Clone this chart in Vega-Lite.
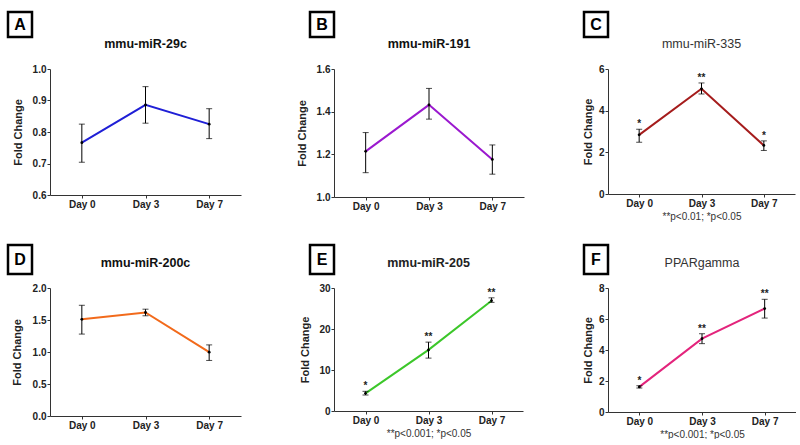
{
  "$schema": "https://vega.github.io/schema/vega-lite/v6.json",
  "background": "white",
  "padding": {"left": 5, "top": 9, "right": 0, "bottom": 0},
  "datasets": {
    "A": [{"day":"Day 0","mean":0.766,"lo":0.704,"hi":0.825},{"day":"Day 3","mean":0.886,"lo":0.828,"hi":0.944},{"day":"Day 7","mean":0.825,"lo":0.779,"hi":0.874}],
    "B": [{"day":"Day 0","mean":1.214,"lo":1.114,"hi":1.302},{"day":"Day 3","mean":1.432,"lo":1.365,"hi":1.509},{"day":"Day 7","mean":1.176,"lo":1.107,"hi":1.244}],
    "C": [{"day":"Day 0","mean":2.84,"lo":2.49,"hi":3.11,"sig":"*"},{"day":"Day 3","mean":5.05,"lo":4.8,"hi":5.33,"sig":"**"},{"day":"Day 7","mean":2.33,"lo":2.09,"hi":2.55,"sig":"*"}],
    "D": [{"day":"Day 0","mean":1.51,"lo":1.28,"hi":1.73},{"day":"Day 3","mean":1.617,"lo":1.566,"hi":1.669},{"day":"Day 7","mean":0.997,"lo":0.868,"hi":1.111}],
    "E": [{"day":"Day 0","mean":4.3,"lo":3.9,"hi":4.8,"sig":"*"},{"day":"Day 3","mean":14.9,"lo":12.9,"hi":16.8,"sig":"**"},{"day":"Day 7","mean":26.9,"lo":26.5,"hi":27.6,"sig":"**"}],
    "F": [{"day":"Day 0","mean":1.62,"lo":1.55,"hi":1.7,"sig":"*"},{"day":"Day 3","mean":4.73,"lo":4.41,"hi":5.05,"sig":"**"},{"day":"Day 7","mean":6.67,"lo":6.06,"hi":7.27,"sig":"**"}]
  },
  "columns": 6,
  "align": "each",
  "bounds": "flush",
  "spacing": 0,
  "concat": [
    {"width": 24, "height": 25, "view": {"stroke": "black", "strokeWidth": 2.5}, "data": {"values": [{"label": "A"}]}, "mark": {"type": "text", "fontSize": 16, "fontWeight": "bold", "color": "black"}, "encoding": {"text": {"field": "label"}}},
    {"width": 260, "height": 57, "data": {"values": [{}]}, "mark": {"type": "point", "opacity": 0}, "encoding": {}},
    {"width": 24, "height": 25, "view": {"stroke": "black", "strokeWidth": 2.5}, "data": {"values": [{"label": "B"}]}, "mark": {"type": "text", "fontSize": 16, "fontWeight": "bold", "color": "black"}, "encoding": {"text": {"field": "label"}}},
    {"width": 250, "height": 1, "data": {"values": [{}]}, "mark": {"type": "point", "opacity": 0}, "encoding": {}},
    {"width": 24, "height": 25, "view": {"stroke": "black", "strokeWidth": 2.5}, "data": {"values": [{"label": "C"}]}, "mark": {"type": "text", "fontSize": 16, "fontWeight": "bold", "color": "black"}, "encoding": {"text": {"field": "label"}}},
    {"width": 1, "height": 1, "data": {"values": [{}]}, "mark": {"type": "point", "opacity": 0}, "encoding": {}},

    {"width": 42, "height": 176, "data": {"values": [{}]}, "mark": {"type": "point", "opacity": 0}, "encoding": {}},
    {
      "width": 191, "height": 126,
      "title": {"text": "mmu-miR-29c", "fontWeight": "bold", "color": "#111"},
      "data": {"name": "A"},
      "encoding": {"x": {"field": "day", "type": "ordinal", "scale": {"type": "point", "padding": 0.5}, "axis": {"labelAngle": 0, "title": null}}},
      "layer": [
        {"mark": {"type": "line", "color": "#1f1fd6", "strokeWidth": 2}, "encoding": {"y": {"field": "mean", "type": "quantitative", "title": "Fold Change", "scale": {"domain": [0.6, 1.0], "nice": false, "zero": false}, "axis": {"values": [0.6, 0.7, 0.8, 0.9, 1.0], "format": ".1f", "titlePadding": 9}}}},
        {"mark": {"type": "errorbar", "ticks": true, "size": 6, "thickness": 1, "color": "black"}, "encoding": {"y": {"field": "lo", "type": "quantitative", "title": "Fold Change", "axis": {"values": [0.6, 0.7, 0.8, 0.9, 1.0], "format": ".1f", "titlePadding": 9}}, "y2": {"field": "hi"}}},
        {"mark": {"type": "point", "filled": true, "color": "black", "size": 8, "opacity": 1}, "encoding": {"y": {"field": "mean", "type": "quantitative", "title": "Fold Change", "axis": {"values": [0.6, 0.7, 0.8, 0.9, 1.0], "format": ".1f", "titlePadding": 9}}}}
      ]
    },
    {"width": 1, "height": 1, "data": {"values": [{}]}, "mark": {"type": "point", "opacity": 0}, "encoding": {}},
    {
      "width": 190, "height": 128,
      "title": {"text": "mmu-miR-191", "fontWeight": "bold", "color": "#111"},
      "data": {"name": "B"},
      "encoding": {"x": {"field": "day", "type": "ordinal", "scale": {"type": "point", "padding": 0.5}, "axis": {"labelAngle": 0, "title": null}}},
      "layer": [
        {"mark": {"type": "line", "color": "#9b19cf", "strokeWidth": 2}, "encoding": {"y": {"field": "mean", "type": "quantitative", "title": "Fold Change", "scale": {"domain": [1.0, 1.6], "nice": false, "zero": false}, "axis": {"values": [1.0, 1.2, 1.4, 1.6], "format": ".1f", "titlePadding": 9}}}},
        {"mark": {"type": "errorbar", "ticks": true, "size": 6, "thickness": 1, "color": "black"}, "encoding": {"y": {"field": "lo", "type": "quantitative", "title": "Fold Change", "axis": {"values": [1.0, 1.2, 1.4, 1.6], "format": ".1f", "titlePadding": 9}}, "y2": {"field": "hi"}}},
        {"mark": {"type": "point", "filled": true, "color": "black", "size": 8, "opacity": 1}, "encoding": {"y": {"field": "mean", "type": "quantitative", "title": "Fold Change", "axis": {"values": [1.0, 1.2, 1.4, 1.6], "format": ".1f", "titlePadding": 9}}}}
      ]
    },
    {"width": 1, "height": 1, "data": {"values": [{}]}, "mark": {"type": "point", "opacity": 0}, "encoding": {}},
    {
      "width": 187, "height": 125,
      "title": {"text": "mmu-miR-335", "fontWeight": "normal", "color": "#333"},
      "data": {"name": "C"},
      "encoding": {"x": {"field": "day", "type": "ordinal", "scale": {"type": "point", "padding": 0.5}, "axis": {"labelAngle": 0, "title": "**p<0.01; *p<0.05", "titleFontSize": 10, "titleFontWeight": "normal", "titleColor": "#333", "titlePadding": 3}}},
      "layer": [
        {"mark": {"type": "line", "color": "#a51c1c", "strokeWidth": 2}, "encoding": {"y": {"field": "mean", "type": "quantitative", "title": "Fold Change", "scale": {"domain": [0, 6], "nice": false}, "axis": {"values": [0, 2, 4, 6], "titlePadding": 5}}}},
        {"mark": {"type": "errorbar", "ticks": true, "size": 6, "thickness": 1, "color": "black"}, "encoding": {"y": {"field": "lo", "type": "quantitative", "title": "Fold Change", "axis": {"values": [0, 2, 4, 6], "titlePadding": 5}}, "y2": {"field": "hi"}}},
        {"mark": {"type": "point", "filled": true, "color": "black", "size": 8, "opacity": 1}, "encoding": {"y": {"field": "mean", "type": "quantitative", "title": "Fold Change", "axis": {"values": [0, 2, 4, 6], "titlePadding": 5}}}},
        {"mark": {"type": "text", "baseline": "alphabetic", "dy": -2, "fontSize": 10, "fontWeight": "bold", "color": "#222"}, "encoding": {"y": {"field": "hi", "type": "quantitative", "title": "Fold Change", "axis": {"values": [0, 2, 4, 6], "titlePadding": 5}}, "text": {"field": "sig"}}}
      ]
    },

    {"width": 24, "height": 29, "view": {"stroke": "black", "strokeWidth": 2.5}, "data": {"values": [{"label": "D"}]}, "mark": {"type": "text", "fontSize": 16, "fontWeight": "bold", "color": "black"}, "encoding": {"text": {"field": "label"}}},
    {"width": 1, "height": 43, "data": {"values": [{}]}, "mark": {"type": "point", "opacity": 0}, "encoding": {}},
    {"width": 24, "height": 29, "view": {"stroke": "black", "strokeWidth": 2.5}, "data": {"values": [{"label": "E"}]}, "mark": {"type": "text", "fontSize": 16, "fontWeight": "bold", "color": "black"}, "encoding": {"text": {"field": "label"}}},
    {"width": 1, "height": 1, "data": {"values": [{}]}, "mark": {"type": "point", "opacity": 0}, "encoding": {}},
    {"width": 24, "height": 29, "view": {"stroke": "black", "strokeWidth": 2.5}, "data": {"values": [{"label": "F"}]}, "mark": {"type": "text", "fontSize": 16, "fontWeight": "bold", "color": "black"}, "encoding": {"text": {"field": "label"}}},
    {"width": 1, "height": 1, "data": {"values": [{}]}, "mark": {"type": "point", "opacity": 0}, "encoding": {}},

    {"width": 1, "height": 1, "data": {"values": [{}]}, "mark": {"type": "point", "opacity": 0}, "encoding": {}},
    {
      "width": 191, "height": 128,
      "title": {"text": "mmu-miR-200c", "fontWeight": "bold", "color": "#111"},
      "data": {"name": "D"},
      "encoding": {"x": {"field": "day", "type": "ordinal", "scale": {"type": "point", "padding": 0.5}, "axis": {"labelAngle": 0, "title": null}}},
      "layer": [
        {"mark": {"type": "line", "color": "#f26a1b", "strokeWidth": 2}, "encoding": {"y": {"field": "mean", "type": "quantitative", "title": "Fold Change", "scale": {"domain": [0, 2], "nice": false}, "axis": {"values": [0, 0.5, 1.0, 1.5, 2.0], "format": ".1f", "titlePadding": 10}}}},
        {"mark": {"type": "errorbar", "ticks": true, "size": 6, "thickness": 1, "color": "black"}, "encoding": {"y": {"field": "lo", "type": "quantitative", "title": "Fold Change", "axis": {"values": [0, 0.5, 1.0, 1.5, 2.0], "format": ".1f", "titlePadding": 10}}, "y2": {"field": "hi"}}},
        {"mark": {"type": "point", "filled": true, "color": "black", "size": 8, "opacity": 1}, "encoding": {"y": {"field": "mean", "type": "quantitative", "title": "Fold Change", "axis": {"values": [0, 0.5, 1.0, 1.5, 2.0], "format": ".1f", "titlePadding": 10}}}}
      ]
    },
    {"width": 1, "height": 1, "data": {"values": [{}]}, "mark": {"type": "point", "opacity": 0}, "encoding": {}},
    {
      "width": 189, "height": 123,
      "title": {"text": "mmu-miR-205", "fontWeight": "bold", "color": "#222"},
      "data": {"name": "E"},
      "encoding": {"x": {"field": "day", "type": "ordinal", "scale": {"type": "point", "padding": 0.5}, "axis": {"labelAngle": 0, "title": "**p<0.001; *p<0.05", "titleFontSize": 10, "titleFontWeight": "normal", "titleColor": "#333", "titlePadding": 3}}},
      "layer": [
        {"mark": {"type": "line", "color": "#3cc72a", "strokeWidth": 2}, "encoding": {"y": {"field": "mean", "type": "quantitative", "title": "Fold Change", "scale": {"domain": [0, 30], "nice": false}, "axis": {"values": [0, 10, 20, 30], "titlePadding": 8}}}},
        {"mark": {"type": "errorbar", "ticks": true, "size": 6, "thickness": 1, "color": "black"}, "encoding": {"y": {"field": "lo", "type": "quantitative", "title": "Fold Change", "axis": {"values": [0, 10, 20, 30], "titlePadding": 8}}, "y2": {"field": "hi"}}},
        {"mark": {"type": "point", "filled": true, "color": "black", "size": 8, "opacity": 1}, "encoding": {"y": {"field": "mean", "type": "quantitative", "title": "Fold Change", "axis": {"values": [0, 10, 20, 30], "titlePadding": 8}}}},
        {"mark": {"type": "text", "baseline": "alphabetic", "dy": -2, "fontSize": 10, "fontWeight": "bold", "color": "#222"}, "encoding": {"y": {"field": "hi", "type": "quantitative", "title": "Fold Change", "axis": {"values": [0, 10, 20, 30], "titlePadding": 8}}, "text": {"field": "sig"}}}
      ]
    },
    {"width": 1, "height": 1, "data": {"values": [{}]}, "mark": {"type": "point", "opacity": 0}, "encoding": {}},
    {
      "width": 188, "height": 124,
      "title": {"text": "PPARgamma", "fontWeight": "normal", "color": "#333"},
      "data": {"name": "F"},
      "encoding": {"x": {"field": "day", "type": "ordinal", "scale": {"type": "point", "padding": 0.5}, "axis": {"labelAngle": 0, "title": "**p<0.001; *p<0.05", "titleFontSize": 10, "titleFontWeight": "normal", "titleColor": "#333", "titlePadding": 3}}},
      "layer": [
        {"mark": {"type": "line", "color": "#e3247c", "strokeWidth": 2}, "encoding": {"y": {"field": "mean", "type": "quantitative", "title": "Fold Change", "scale": {"domain": [0, 8], "nice": false}, "axis": {"values": [0, 2, 4, 6, 8], "titlePadding": 5}}}},
        {"mark": {"type": "errorbar", "ticks": true, "size": 6, "thickness": 1, "color": "black"}, "encoding": {"y": {"field": "lo", "type": "quantitative", "title": "Fold Change", "axis": {"values": [0, 2, 4, 6, 8], "titlePadding": 5}}, "y2": {"field": "hi"}}},
        {"mark": {"type": "point", "filled": true, "color": "black", "size": 8, "opacity": 1}, "encoding": {"y": {"field": "mean", "type": "quantitative", "title": "Fold Change", "axis": {"values": [0, 2, 4, 6, 8], "titlePadding": 5}}}},
        {"mark": {"type": "text", "baseline": "alphabetic", "dy": -2, "fontSize": 10, "fontWeight": "bold", "color": "#222"}, "encoding": {"y": {"field": "hi", "type": "quantitative", "title": "Fold Change", "axis": {"values": [0, 2, 4, 6, 8], "titlePadding": 5}}, "text": {"field": "sig"}}}
      ]
    }
  ],
  "config": {
    "font": "Liberation Sans",
    "view": {"stroke": null},
    "axis": {"grid": false, "labelOverlap": false, "domainColor": "#333", "tickColor": "#333", "labelColor": "#222", "labelFontWeight": "bold", "labelFontSize": 10, "tickSize": 3, "labelPadding": 1, "titleFontSize": 11, "titleFontWeight": "bold", "titleColor": "#222"},
    "title": {"fontSize": 12.5, "anchor": "middle", "offset": 14}
  }
}
